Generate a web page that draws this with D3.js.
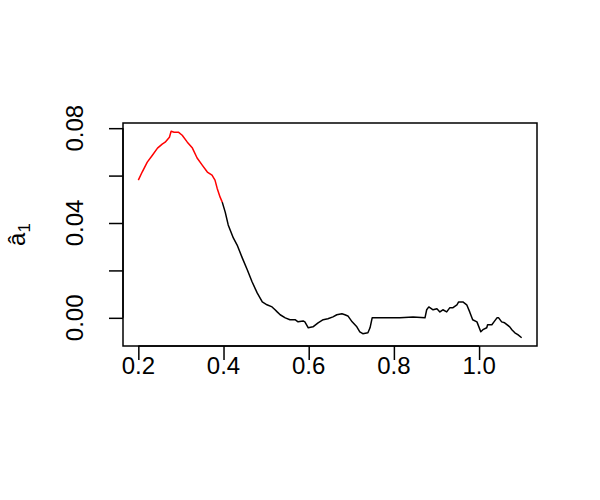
<!DOCTYPE html>
<html>
<head>
<meta charset="utf-8">
<script src="https://cdn.jsdelivr.net/npm/d3@7"></script>
<style>
  html, body { margin: 0; padding: 0; background: #ffffff; }
  svg { display: block; }
  text { font-family: "Liberation Sans", Arial, Helvetica, sans-serif; }
</style>
</head>
<body>
<svg id="chart" width="600" height="500"></svg>
<script>
// ---- data ----
const xRed = [0.200,0.209,0.221,0.233,0.245,0.256,0.263,0.273,0.277,0.284,0.294,0.303,0.315,0.327,0.338,0.350,0.362,0.373,0.380,0.385,0.392,0.397];
const yRed = [0.0581,0.0615,0.0657,0.0686,0.0716,0.0733,0.0741,0.0762,0.0787,0.0783,0.0783,0.0770,0.0741,0.0716,0.0674,0.0644,0.0615,0.0602,0.0581,0.0547,0.0509,0.0488];

const xBlack = [0.397,0.404,0.411,0.423,0.432,0.444,0.456,0.467,0.479,0.491,0.502,0.514,0.521,0.526,0.533,0.545,0.556,0.568,0.575,0.587,0.591,0.599,0.610,0.622,0.634,0.645,0.657,0.666,0.678,0.685,0.692,0.702,0.713,0.720,0.727,0.739,0.744,0.749,0.777,0.814,0.845,0.873,0.877,0.882,0.892,0.901,0.908,0.915,0.924,0.931,0.938,0.948,0.952,0.960,0.962,0.971,0.978,0.985,0.995,1.004,1.009,1.018,1.020,1.030,1.035,1.042,1.046,1.053,1.060,1.072,1.077,1.084,1.091,1.100];
const yBlack = [0.0488,0.0446,0.0392,0.0337,0.0307,0.0253,0.0202,0.0152,0.0105,0.0067,0.0055,0.0046,0.0034,0.0025,0.0013,0.0000,-0.0008,-0.0008,-0.0017,-0.0013,-0.0017,-0.0042,-0.0038,-0.0021,-0.0008,-0.0004,0.0004,0.0013,0.0017,0.0013,0.0008,-0.0017,-0.0038,-0.0059,-0.0067,-0.0063,-0.0042,0.0000,0.0000,0.0000,0.0004,0.0000,0.0034,0.0046,0.0034,0.0038,0.0025,0.0034,0.0025,0.0042,0.0042,0.0055,0.0067,0.0067,0.0067,0.0055,0.0025,-0.0008,-0.0017,-0.0059,-0.0050,-0.0042,-0.0029,-0.0029,-0.0017,0.0000,0.0000,-0.0017,-0.0021,-0.0038,-0.0050,-0.0063,-0.0071,-0.0084];

const xTicks = [0.2, 0.4, 0.6, 0.8, 1.0];
const xTickLabels = ["0.2", "0.4", "0.6", "0.8", "1.0"];
const yTicks = [0.00, 0.02, 0.04, 0.06, 0.08];
const yLabelTicks = [0.00, 0.04, 0.08];
const yLabelTexts = ["0.00", "0.04", "0.08"];

// ---- layout ----
const W = 600, H = 500;
const margin = {left: 123, right: 63, top: 123, bottom: 154};
const svg = d3.select("#chart");

const allX = xRed.concat(xBlack), allY = yRed.concat(yBlack);
const xr = d3.extent(allX), yr = d3.extent(allY);
const xp = (xr[1] - xr[0]) * 0.04, yp = (yr[1] - yr[0]) * 0.04;

const x = d3.scaleLinear().domain([xr[0] - xp, xr[1] + xp]).range([margin.left, W - margin.right]);
const y = d3.scaleLinear().domain([yr[0] - yp, yr[1] + yp]).range([H - margin.bottom, margin.top]);

const lw = 1.5;
const font = 24;

// box
svg.append("rect")
  .attr("x", margin.left).attr("y", margin.top)
  .attr("width", W - margin.left - margin.right)
  .attr("height", H - margin.top - margin.bottom)
  .attr("fill", "none").attr("stroke", "#000").attr("stroke-width", lw);

// x axis
const xAxis = d3.axisBottom(x).tickValues(xTicks).tickSize(14).tickPadding(0)
  .tickFormat((d, i) => "");
const gx = svg.append("g").attr("transform", `translate(0,${H - margin.bottom})`).call(xAxis);
gx.select(".domain").attr("stroke-width", lw).attr("d", `M${x(xTicks[0])},0H${x(xTicks[xTicks.length-1])}`);
gx.selectAll(".tick line").attr("stroke-width", lw);
svg.selectAll(".xlab").data(xTicks).enter().append("text")
  .attr("x", d => x(d)).attr("y", 374)
  .attr("text-anchor", "middle").attr("font-size", font).attr("fill", "#000")
  .text((d, i) => xTickLabels[i]);

// y axis
const yAxis = d3.axisLeft(y).tickValues(yTicks).tickSize(14).tickFormat(() => "");
const gy = svg.append("g").attr("transform", `translate(${margin.left},0)`).call(yAxis);
gy.select(".domain").attr("stroke-width", lw).attr("d", `M0,${y(yTicks[0])}V${y(yTicks[yTicks.length-1])}`);
gy.selectAll(".tick line").attr("stroke-width", lw);
svg.selectAll(".ylab").data(yLabelTicks).enter().append("text")
  .attr("transform", d => `translate(83,${y(d)}) rotate(-90)`)
  .attr("text-anchor", "middle").attr("font-size", font).attr("fill", "#000")
  .text((d, i) => yLabelTexts[i]);

// y axis title: a-hat subscript 1
const yt = svg.append("text")
  .attr("transform", `translate(25,${(margin.top + H - margin.bottom) / 2}) rotate(-90)`)
  .attr("text-anchor", "middle").attr("font-size", font).attr("fill", "#000");
yt.append("tspan").text("\u00e2");
yt.append("tspan").attr("font-size", 17).attr("dy", 5).text("1");

// lines
const line = d3.line().x(d => x(d[0])).y(d => y(d[1]));
svg.append("path").datum(d3.zip(xBlack, yBlack))
  .attr("d", line).attr("fill", "none").attr("stroke", "#000").attr("stroke-width", lw)
  .attr("stroke-linejoin", "round");
svg.append("path").datum(d3.zip(xRed, yRed))
  .attr("d", line).attr("fill", "none").attr("stroke", "#ff0000").attr("stroke-width", lw)
  .attr("stroke-linejoin", "round");
</script>
</body>
</html>
